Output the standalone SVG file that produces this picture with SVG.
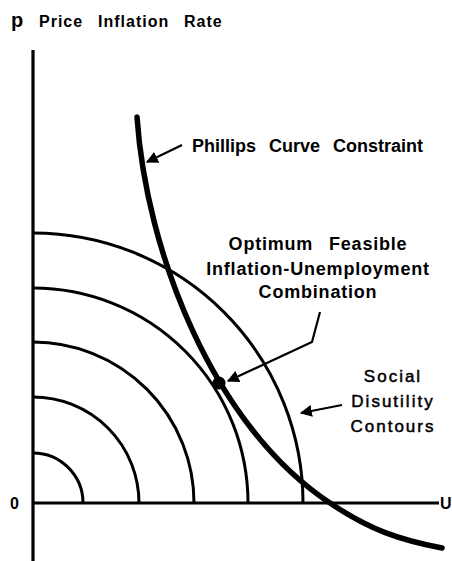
<svg xmlns="http://www.w3.org/2000/svg" width="452" height="561" viewBox="0 0 452 561">
<style>
.ax{stroke:#000;stroke-width:3.2;fill:none}
.ct{stroke:#000;stroke-width:3;fill:none}
.pc{stroke:#000;stroke-width:5.5;fill:none;stroke-linecap:round}
.ld{stroke:#000;stroke-width:2.2;fill:none}
.b{font-family:"Liberation Sans",Arial,sans-serif;font-weight:bold;fill:#000}
.r{font-family:"Liberation Sans",Arial,sans-serif;fill:#000;stroke:#000;stroke-width:0.5}
</style>
<defs>
<marker id="ahb" viewBox="0 0 10 10" refX="9" refY="5" markerWidth="5.5" markerHeight="5.5" orient="auto">
<path d="M0,0 L10,5 L0,10 z" fill="#000"/>
</marker>
</defs>
<g id="axes">
<line class="ax" x1="33" y1="50" x2="33" y2="561"/>
<line class="ax" x1="33" y1="503" x2="439" y2="503"/>
<text class="b" x="11" y="27" font-size="20">p</text>
<text class="b" x="39" y="27" font-size="16" letter-spacing="1">Price</text>
<text class="b" x="98" y="27" font-size="16" letter-spacing="1">Inflation</text>
<text class="b" x="184" y="27" font-size="16" letter-spacing="1">Rate</text>
<text class="b" x="10" y="509" font-size="16">0</text>
<text class="b" x="440" y="509" font-size="16">U</text>
</g>
<g id="contours">
<path class="ct" d="M33,453 A50,50 0 0 1 83,503"/>
<path class="ct" d="M33,397 A106,106 0 0 1 139,503"/>
<path class="ct" d="M33,342 A161,161 0 0 1 194,503"/>
<path class="ct" d="M33,288 A215,215 0 0 1 248,503"/>
<path class="ct" d="M33,233 A270,270 0 0 1 303,503"/>
</g>
<g id="phillips">
<path class="pc" d="M137,117 C146,250 212,425 330,503 C370,530 400,540 442,548"/>
</g>
<g id="optimum">
<circle cx="219" cy="383" r="6.5"/>
</g>
<g id="connectors">
<line class="ld" x1="182" y1="145" x2="147" y2="162" marker-end="url(#ahb)"/>
<polyline class="ld" points="320,312 312,342 228,381" marker-end="url(#ahb)"/>
<line class="ld" x1="342" y1="405" x2="301" y2="413" marker-end="url(#ahb)"/>
</g>
<g id="labels">
<text class="b" x="192" y="152" font-size="18" word-spacing="8">Phillips Curve Constraint</text>
<text class="b" x="318" y="250" font-size="18" letter-spacing="0.8" word-spacing="10" text-anchor="middle">Optimum Feasible</text>
<text class="b" x="318" y="275" font-size="18" letter-spacing="0.8" text-anchor="middle">Inflation-Unemployment</text>
<text class="b" x="318" y="298" font-size="18" letter-spacing="0.8" text-anchor="middle">Combination</text>
<text class="r" x="393" y="382" font-size="17" letter-spacing="2" text-anchor="middle">Social</text>
<text class="r" x="393" y="407" font-size="17" letter-spacing="2" text-anchor="middle">Disutility</text>
<text class="r" x="393" y="432" font-size="17" letter-spacing="2" text-anchor="middle">Contours</text>
</g>
</svg>
